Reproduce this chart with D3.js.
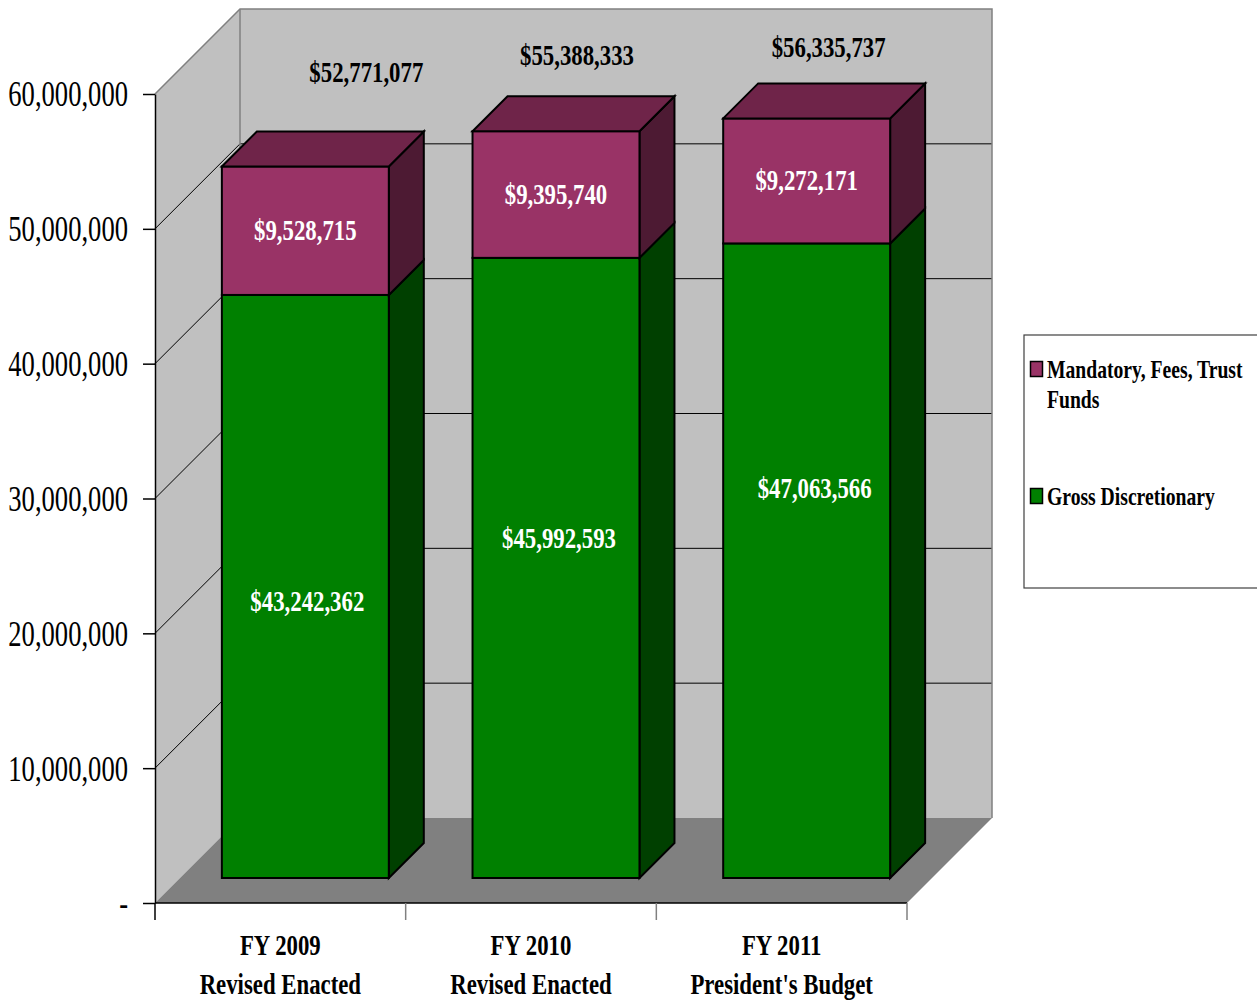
<!DOCTYPE html>
<html><head><meta charset="utf-8">
<script src="https://cdn.jsdelivr.net/npm/d3@7"></script>
<style>
body{margin:0;background:#fff}
svg{display:block}
text{font-family:"Liberation Serif","Times New Roman",serif}
</style>
</head><body>
<svg id="chart" width="1257" height="1003"></svg>
<script>
// ---------- data ----------
const categoryLine1 = ["FY 2009", "FY 2010", "FY 2011"];
const categoryLine2 = ["Revised Enacted", "Revised Enacted", "President's Budget"];
const grossDiscretionary = [43242362, 45992593, 47063566];
const mandatoryFeesTrust = [9528715, 9395740, 9272171];
const totals = [52771077, 55388333, 56335737];
const seriesNames = ["Mandatory, Fees, Trust Funds", "Gross Discretionary"];
const yTickValues = [0, 10000000, 20000000, 30000000, 40000000, 50000000, 60000000];

// ---------- layout ----------
const X0 = 155, X1 = 907, Y0 = 903, Y1 = 94;
const WALL = 85, D1 = 25, DEPTH = 35, SX = 0.76;
const colors = {
  gross: {front: "#008000", side: "#004000", top: "#006000"},
  mand: {front: "#993366", side: "#4d1a33", top: "#6f2449"}
};
// label nudges (layout only)
const totalNudge = [[61, -84], [21, -66], [22, -61]];
const grossNudge = [[2, 25], [3, -20], [8, -63]];

const svg = d3.select("#chart");
svg.append("rect").attr("width", 1257).attr("height", 1003).attr("fill", "#fff");

const x = d3.scaleBand().domain(categoryLine1).range([X0, X1]).paddingInner(0.334).paddingOuter(0.167);
const y = d3.scaleLinear().domain([0, 60000000]).range([Y0, Y1]);
const yTop = y(60000000);

function label(g, px, py, s, size, weight, fill, anchor, sx) {
  g.append("text")
    .attr("transform", `translate(${px},${py}) scale(${sx || SX},1)`)
    .attr("text-anchor", anchor || "middle")
    .style("font-size", size + "px")
    .style("font-weight", weight)
    .attr("fill", fill)
    .text(s);
}

// ---------- walls & floor ----------
const walls = svg.append("g");
walls.append("polygon")
  .attr("points", [[X0, yTop], [X0 + WALL, yTop - WALL], [X0 + WALL, Y0 - WALL], [X0, Y0]].join(" "))
  .attr("fill", "#c0c0c0");
walls.append("polygon")
  .attr("points", [[X0 + WALL, yTop - WALL], [X1 + WALL, yTop - WALL], [X1 + WALL, Y0 - WALL], [X0 + WALL, Y0 - WALL]].join(" "))
  .attr("fill", "#c0c0c0");
walls.append("polygon")
  .attr("points", [[X0, Y0], [X1, Y0], [X1 + WALL, Y0 - WALL], [X0 + WALL, Y0 - WALL]].join(" "))
  .attr("fill", "#808080");

// gridlines
const grid = svg.append("g");
yTickValues.filter(v => v > 0 && v < 60000000).forEach(v => {
  const yy = y(v);
  grid.append("line").attr("x1", X0).attr("y1", yy).attr("x2", X0 + WALL).attr("y2", yy - WALL)
    .attr("stroke", "#000").attr("stroke-width", 1);
  grid.append("line").attr("x1", X0 + WALL).attr("y1", yy - WALL).attr("x2", X1 + WALL).attr("y2", yy - WALL)
    .attr("stroke", "#000").attr("stroke-width", 1);
});
// wall borders
const border = svg.append("g").attr("fill", "none").attr("stroke", "#808080").attr("stroke-width", 1.5);
border.append("polyline")
  .attr("points", [[X0, yTop], [X0 + WALL, yTop - WALL], [X1 + WALL, yTop - WALL], [X1 + WALL, Y0 - WALL]].join(" "));
border.append("line").attr("x1", X0 + WALL).attr("y1", yTop - WALL).attr("x2", X0 + WALL).attr("y2", Y0 - WALL);

// ---------- bars ----------
const rows = categoryLine1.map((c, i) => ({cat: c, gross: grossDiscretionary[i], mand: mandatoryFeesTrust[i]}));
const stack = d3.stack().keys(["gross", "mand"])(rows);
const bars = svg.append("g").attr("stroke", "#000").attr("stroke-width", 2).attr("stroke-linejoin", "miter");
const w = x.bandwidth();
rows.forEach((r, j) => {
  stack.forEach((layer, li) => {
    const d = layer[j];
    const key = layer.key;
    const fx = x(r.cat) + D1;
    const yt = y(d[1]) - D1, yb = y(d[0]) - D1;
    bars.append("polygon")
      .attr("points", [[fx + w, yb], [fx + w + DEPTH, yb - DEPTH], [fx + w + DEPTH, yt - DEPTH], [fx + w, yt]].join(" "))
      .attr("fill", colors[key].side);
    bars.append("rect").attr("x", fx).attr("y", yt).attr("width", w).attr("height", yb - yt)
      .attr("fill", colors[key].front);
    if (li === stack.length - 1) {
      bars.append("polygon")
        .attr("points", [[fx, yt], [fx + DEPTH, yt - DEPTH], [fx + w + DEPTH, yt - DEPTH], [fx + w, yt]].join(" "))
        .attr("fill", colors[key].top);
    }
  });
});

// ---------- data labels ----------
const labels = svg.append("g");
const money = v => "$" + d3.format(",")(v);
rows.forEach((r, j) => {
  const cx = x(r.cat) + D1 + w / 2;
  const g = stack[0][j], m = stack[1][j];
  const gTop = y(g[1]) - D1, gBot = y(g[0]) - D1;
  const mTop = y(m[1]) - D1, mBot = y(m[0]) - D1;
  label(labels, cx + grossNudge[j][0], (gTop + gBot) / 2 + grossNudge[j][1], money(grossDiscretionary[j]), 30, "bold", "#fff");
  label(labels, cx, (mTop + mBot) / 2 + 9, money(mandatoryFeesTrust[j]), 30, "bold", "#fff");
  label(labels, cx + totalNudge[j][0], y(totals[j]) - D1 + totalNudge[j][1], money(totals[j]), 30, "bold", "#000");
});

// ---------- axes ----------
const yAxisG = svg.append("g").attr("transform", `translate(${X0},0)`)
  .call(d3.axisLeft(y).tickValues(yTickValues).tickSize(12).tickSizeOuter(0)
    .tickFormat(v => v === 0 ? "-" : d3.format(",")(v)));
yAxisG.select(".domain").attr("stroke", "#000").attr("stroke-width", 1.5);
yAxisG.selectAll(".tick line").attr("stroke", "#000").attr("stroke-width", 1.5);
yAxisG.selectAll(".tick text")
  .attr("x", null).attr("dy", "0.34em")
  .attr("transform", `translate(-27,0) scale(${SX},1)`)
  .attr("text-anchor", "end")
  .attr("fill", "#000")
  .style("font-size", "35px")
  .style("font-family", '"Liberation Serif","Times New Roman",serif');

const xAx = svg.append("g");
xAx.append("line").attr("x1", X0).attr("y1", Y0).attr("x2", X1).attr("y2", Y0)
  .attr("stroke", "#000").attr("stroke-width", 1.5);
const step = (X1 - X0) / categoryLine1.length;
d3.range(categoryLine1.length + 1).forEach(i => {
  xAx.append("line").attr("x1", X0 + i * step).attr("x2", X0 + i * step)
    .attr("y1", Y0).attr("y2", Y0 + 17)
    .attr("stroke", i === 0 ? "#000" : "#808080").attr("stroke-width", 1.5);
});
categoryLine1.forEach((c, i) => {
  const cx = x(c) + w / 2;
  label(xAx, cx, 955, c, 30, "bold", "#000");
  label(xAx, cx, 994, categoryLine2[i], 30, "bold", "#000");
});

// ---------- legend ----------
const lg = svg.append("g");
lg.append("rect").attr("x", 1024).attr("y", 335).attr("width", 260).attr("height", 253)
  .attr("fill", "#fff").attr("stroke", "#404040").attr("stroke-width", 1.2);
lg.append("rect").attr("x", 1030.5).attr("y", 361.5).attr("width", 12).attr("height", 15)
  .attr("fill", colors.mand.front).attr("stroke", "#000").attr("stroke-width", 1.5);
lg.append("rect").attr("x", 1030.5).attr("y", 488.5).attr("width", 12).attr("height", 15)
  .attr("fill", colors.gross.front).attr("stroke", "#000").attr("stroke-width", 1.5);
label(lg, 1047, 378, "Mandatory, Fees, Trust", 25.5, "bold", "#000", "start", 0.77);
label(lg, 1047, 408, "Funds", 25.5, "bold", "#000", "start", 0.77);
label(lg, 1047, 505, seriesNames[1], 25.5, "bold", "#000", "start", 0.77);
</script>
</body></html>
